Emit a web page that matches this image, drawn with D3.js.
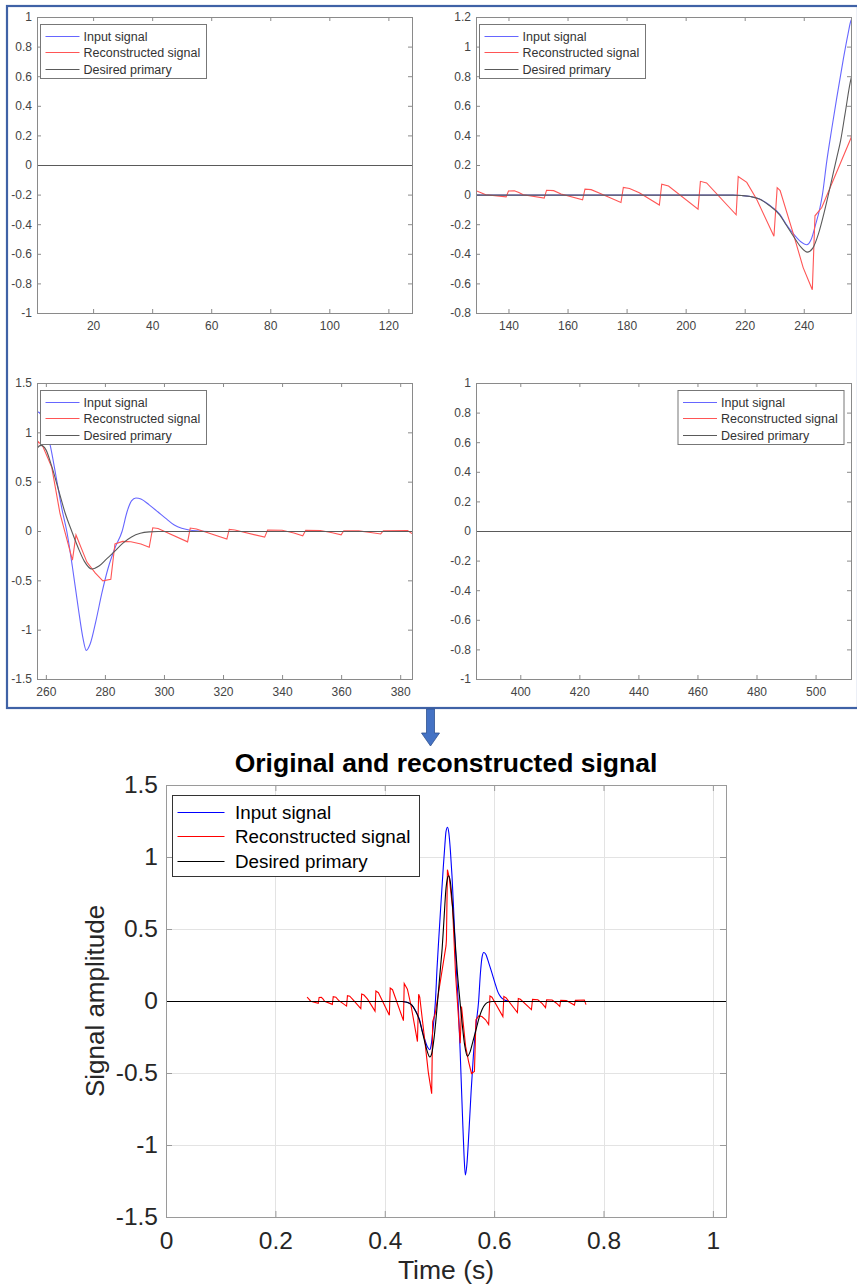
<!DOCTYPE html>
<html>
<head>
<meta charset="utf-8">
<script src="https://cdn.jsdelivr.net/npm/d3@7"></script>
<style>
  body { margin: 0; background: #fff; }
  svg { display: block; }
</style>
</head>
<body>
<svg id="fig" width="857" height="1284"></svg>
<script>
// ---- data: [sample index, amplitude] ----
const sampleRate = 500; // samples per second

const inputSignal = [
  [0,0],[216,0],[219,-0.003],[222,-0.01],[225,-0.027],[228,-0.062],[231.9,-0.13],[234,-0.195],
  [236.5,-0.262],[239,-0.315],[241,-0.335],[242.5,-0.3],[244,-0.2],[245.5,-0.084],[246.3,0],
  [247.8,0.23],[249.5,0.45],[251.2,0.66],[253.5,0.93],[255,1.09],[256,1.18],[257.4,1.21],
  [258.6,1.17],[260,1.05],[261.5,0.87],[263.5,0.55],[265.5,0.22],[267.1,0],[269,-0.36],
  [271,-0.78],[272.5,-1.07],[273.7,-1.205],[275,-1.14],[277,-0.9],[279,-0.62],[281,-0.38],
  [283.5,-0.16],[285.8,0],[287.5,0.2],[289,0.31],[290.5,0.34],[292.2,0.33],[295,0.27],
  [297.9,0.2],[300.5,0.135],[303.5,0.065],[306,0.032],[308.5,0.015],[311,0.006],[315,0],[512,0]
];

const reconstructedSignal = [
  [129,0.03],[130.5,0.018],[132.3,0.002],[139.2,-0.012],
  [140,0.028],[142,0.029],[143.5,0.018],[145,0.002],[152.1,-0.02],
  [152.9,0.033],[155.3,0.03],[157.8,0.008],[165.1,-0.032],
  [165.9,0.04],[168,0.037],[170.7,0.014],[178.1,-0.05],
  [178.9,0.052],[181,0.045],[184.3,0.016],[191.1,-0.067],
  [191.9,0.073],[194.2,0.061],[204.2,-0.095],
  [205,0.093],[207.1,0.082],[217.1,-0.133],
  [217.8,0.125],[220.7,0.086],[224,-0.027],[229.9,-0.278],
  [231,0.05],[232,0.03],[236.5,-0.264],[239.8,-0.49],[242.9,-0.64],
  [243.8,-0.14],[246.1,-0.084],[256,0.386],[256.4,0.43],
  [257.3,0.915],[259,0.86],[262,0.65],[264.8,0.18],[269,-0.29],
  [270.2,-0.035],[273.9,-0.31],[276.7,-0.42],[279.3,-0.5],[282,-0.485],
  [283.4,-0.127],[286,-0.1],[288.8,-0.104],[292.2,-0.127],[295,-0.16],
  [296.2,0.038],[298,0.03],[308,-0.105],
  [308.9,0.035],[311,0.025],[321.3,-0.077],
  [322.1,0.021],[324,0.015],[334.1,-0.057],
  [335.1,0.015],[340,0.012],[344,-0.015],[347,-0.043],
  [348,0.012],[353,0.01],[357,-0.012],[360,-0.034],
  [360.9,0.008],[366,0.006],[370,-0.01],[373.4,-0.025],
  [374.3,0.008],[382.5,0.01],[384,-0.022]
];

const desiredPrimary = [
  [0,0],[216,0],[219,-0.003],[222,-0.01],[225,-0.027],[228,-0.065],[231.9,-0.135],[234,-0.2],
  [236.5,-0.278],[239,-0.35],[241.2,-0.385],[243,-0.36],[245,-0.26],[247,-0.11],[248.3,0],
  [250,0.15],[251.2,0.255],[252.5,0.37],[254,0.55],[256,0.786],[257.2,0.85],[258.4,0.873],
  [260,0.83],[262,0.66],[264.5,0.4],[266.5,0.19],[268.8,0],[271,-0.17],[273,-0.3],
  [275.6,-0.38],[278,-0.35],[280.5,-0.28],[283,-0.21],[286,-0.12],[289,-0.055],
  [292,-0.018],[295,-0.004],[298,0],[512,0]
];

const seriesNames = ["Input signal", "Reconstructed signal", "Desired primary"];

// sample windows shown in the four panels
const panelRanges = [[1, 128], [129, 256], [257, 384], [385, 512]];
const panelYDomains = [[-1, 1], [-0.8, 1.2], [-1.5, 1.5], [-1, 1]];
const panelXTicks = [
  [20, 40, 60, 80, 100, 120],
  [140, 160, 180, 200, 220, 240],
  [260, 280, 300, 320, 340, 360, 380],
  [400, 420, 440, 460, 480, 500]
];
const panelYTicks = [
  [-1, -0.8, -0.6, -0.4, -0.2, 0, 0.2, 0.4, 0.6, 0.8, 1],
  [-0.8, -0.6, -0.4, -0.2, 0, 0.2, 0.4, 0.6, 0.8, 1, 1.2],
  [-1.5, -1, -0.5, 0, 0.5, 1, 1.5],
  [-1, -0.8, -0.6, -0.4, -0.2, 0, 0.2, 0.4, 0.6, 0.8, 1]
];
const mainXDomain = [0, 1.024];
const mainYDomain = [-1.5, 1.5];
const mainXTicks = [0, 0.2, 0.4, 0.6, 0.8, 1];
const mainYTicks = [-1.5, -1, -0.5, 0, 0.5, 1, 1.5];
const mainTitle = "Original and reconstructed signal";
const mainXLabel = "Time (s)";
const mainYLabel = "Signal amplitude";

// ---- drawing ----
const svg = d3.select("#fig");
const FONT = "'Liberation Sans', Arial, Helvetica, sans-serif";
const fmt = d => String(d);
const seriesData = [inputSignal, reconstructedSignal, desiredPrimary];

const panelColors = ["#6666ff", "#ff5555", "#5a5a5a"];
const mainColors = ["#0000ff", "#ff0000", "#000000"];
const seriesCurves = [d3.curveMonotoneX, d3.curveLinear, d3.curveMonotoneX];

// blue frame around the four panels
svg.append("rect")
  .attr("x", 7).attr("y", 6).attr("width", 851).attr("height", 702)
  .attr("fill", "none").attr("stroke", "#3f62a6").attr("stroke-width", 2.2);

// arrow pointing down to the combined plot
svg.append("path")
  .attr("d", "M426.5,709 L434.5,709 L434.5,733 L439.5,733 L430.5,746 L421.5,733 L426.5,733 Z")
  .attr("fill", "#4472c4").attr("stroke", "#2f528f").attr("stroke-width", 0.8);

const panelBoxes = [
  { left: 37, top: 17 }, { left: 476, top: 17 },
  { left: 37, top: 383 }, { left: 476, top: 383 }
];
const PW = 375, PH = 296;

function styleAxis(g, color, size) {
  g.select(".domain").remove();
  g.selectAll(".tick line").attr("stroke", color);
  g.selectAll(".tick text").attr("fill", "#444").attr("font-family", FONT).attr("font-size", size);
}

panelBoxes.forEach((box, i) => {
  const x = d3.scaleLinear().domain(panelRanges[i]).range([box.left, box.left + PW]);
  const y = d3.scaleLinear().domain(panelYDomains[i]).range([box.top + PH, box.top]);
  const g = svg.append("g");

  const clipId = "clip" + i;
  svg.append("clipPath").attr("id", clipId).append("rect")
    .attr("x", box.left).attr("y", box.top).attr("width", PW).attr("height", PH);

  const axisColor = "#8a8a8a";
  g.append("g").attr("transform", `translate(0,${box.top + PH})`)
    .call(d3.axisBottom(x).tickValues(panelXTicks[i]).tickSize(-4).tickPadding(8).tickFormat(fmt))
    .call(a => styleAxis(a, axisColor, 12));
  g.append("g").attr("transform", `translate(0,${box.top})`)
    .call(d3.axisTop(x).tickValues(panelXTicks[i]).tickSize(-4).tickFormat(""))
    .call(a => styleAxis(a, axisColor, 12));
  g.append("g").attr("transform", `translate(${box.left},0)`)
    .call(d3.axisLeft(y).tickValues(panelYTicks[i]).tickSize(-4).tickPadding(5).tickFormat(fmt))
    .call(a => styleAxis(a, axisColor, 12));
  g.append("g").attr("transform", `translate(${box.left + PW},0)`)
    .call(d3.axisRight(y).tickValues(panelYTicks[i]).tickSize(-4).tickFormat(""))
    .call(a => styleAxis(a, axisColor, 12));

  // half-pixel shift keeps the flat zero segments on one pixel row
  const lines = g.append("g").attr("clip-path", `url(#${clipId})`)
    .append("g").attr("transform", "translate(0,0.5)");
  seriesData.forEach((data, k) => {
    const line = d3.line().x(d => x(d[0])).y(d => y(d[1])).curve(seriesCurves[k]);
    lines.append("path").datum(data).attr("d", line)
      .attr("fill", "none").attr("stroke", panelColors[k]).attr("stroke-width", 1.1);
  });

  g.append("rect").attr("x", box.left + 0.5).attr("y", box.top + 0.5).attr("width", PW).attr("height", PH)
    .attr("fill", "none").attr("stroke", axisColor).attr("stroke-width", 1);

  // legend
  const lw = 166, lh = 54;
  const lx = i === 3 ? box.left + PW - 7 - lw : box.left + 3.5;
  const ly = box.top + 7.5;
  const lg = g.append("g");
  lg.append("rect").attr("x", lx).attr("y", ly).attr("width", lw).attr("height", lh)
    .attr("fill", "#fff").attr("stroke", "#777").attr("stroke-width", 1);
  seriesNames.forEach((name, k) => {
    const cy = Math.round(ly + 11 + k * 16.8) + 0.5;
    lg.append("line").attr("x1", lx + 5).attr("x2", lx + 39).attr("y1", cy).attr("y2", cy)
      .attr("stroke", panelColors[k]).attr("stroke-width", 1);
    lg.append("text").attr("x", lx + 43).attr("y", cy).attr("dy", "0.35em")
      .attr("font-family", FONT).attr("font-size", 12.5).attr("fill", "#333").text(name);
  });
});

// ---- combined plot ----
const M = { left: 166, right: 726, top: 785, bottom: 1217 };
const mx = d3.scaleLinear().domain(mainXDomain).range([M.left, M.right]);
const my = d3.scaleLinear().domain(mainYDomain).range([M.bottom, M.top]);
const mg = svg.append("g");

// grid
mg.append("g").selectAll("line").data(mainXTicks.filter(t => t > 0)).join("line")
  .attr("x1", d => Math.round(mx(d)) + 0.5).attr("x2", d => Math.round(mx(d)) + 0.5)
  .attr("y1", M.top).attr("y2", M.bottom)
  .attr("stroke", "#e3e3e3").attr("stroke-width", 1);
mg.append("g").selectAll("line").data(mainYTicks.filter(t => t > mainYDomain[0] && t < mainYDomain[1])).join("line")
  .attr("x1", M.left).attr("x2", M.right)
  .attr("y1", d => Math.round(my(d)) + 0.5).attr("y2", d => Math.round(my(d)) + 0.5)
  .attr("stroke", "#e3e3e3").attr("stroke-width", 1);

const mainAxisColor = "#9a9a9a";
function styleMain(a) {
  a.select(".domain").remove();
  a.selectAll(".tick line").attr("stroke", mainAxisColor);
  a.selectAll(".tick text").attr("fill", "#262626").attr("font-family", FONT).attr("font-size", 24.5);
}
mg.append("g").attr("transform", `translate(0,${M.bottom})`)
  .call(d3.axisBottom(mx).tickValues(mainXTicks).tickSize(-6).tickPadding(15).tickFormat(fmt))
  .call(styleMain);
mg.append("g").attr("transform", `translate(0,${M.top})`)
  .call(d3.axisTop(mx).tickValues(mainXTicks).tickSize(-6).tickFormat(""))
  .call(styleMain);
mg.append("g").attr("transform", `translate(${M.left},0)`)
  .call(d3.axisLeft(my).tickValues(mainYTicks).tickSize(-6).tickPadding(8).tickFormat(fmt))
  .call(styleMain);
mg.append("g").attr("transform", `translate(${M.right},0)`)
  .call(d3.axisRight(my).tickValues(mainYTicks).tickSize(-6).tickFormat(""))
  .call(styleMain);

svg.append("clipPath").attr("id", "clipMain").append("rect")
  .attr("x", M.left).attr("y", M.top).attr("width", M.right - M.left).attr("height", M.bottom - M.top);
const mlines = mg.append("g").attr("clip-path", "url(#clipMain)")
  .append("g").attr("transform", "translate(0,0.5)");
seriesData.forEach((data, k) => {
  const line = d3.line().x(d => mx(d[0] / sampleRate)).y(d => my(d[1])).curve(seriesCurves[k]);
  mlines.append("path").datum(data).attr("d", line)
    .attr("fill", "none").attr("stroke", mainColors[k]).attr("stroke-width", 1.1);
});

mg.append("rect").attr("x", M.left + 0.5).attr("y", M.top + 0.5)
  .attr("width", M.right - M.left).attr("height", M.bottom - M.top)
  .attr("fill", "none").attr("stroke", mainAxisColor).attr("stroke-width", 1);

// legend
const LX = 172.5, LY = 795.5, LW = 247, LH = 81;
mg.append("rect").attr("x", LX).attr("y", LY).attr("width", LW).attr("height", LH)
  .attr("fill", "#fff").attr("stroke", "#333").attr("stroke-width", 1);
seriesNames.forEach((name, k) => {
  const cy = Math.round(LY + 16 + k * 24.5) + 0.5;
  mg.append("line").attr("x1", LX + 5).attr("x2", LX + 52).attr("y1", cy).attr("y2", cy)
    .attr("stroke", mainColors[k]).attr("stroke-width", 1.2);
  mg.append("text").attr("x", LX + 62.5).attr("y", cy).attr("dy", "0.35em")
    .attr("font-family", FONT).attr("font-size", 18.8).attr("fill", "#000").text(name);
});

// title and axis labels
svg.append("text").attr("x", 446).attr("y", 772).attr("text-anchor", "middle")
  .attr("font-family", FONT).attr("font-weight", "bold").attr("font-size", 26.5)
  .attr("fill", "#000").text(mainTitle);
svg.append("text").attr("x", 446).attr("y", 1279).attr("text-anchor", "middle")
  .attr("font-family", FONT).attr("font-size", 26.5).attr("fill", "#262626").text(mainXLabel);
svg.append("text").attr("transform", `translate(104,${(M.top + M.bottom) / 2}) rotate(-90)`)
  .attr("text-anchor", "middle")
  .attr("font-family", FONT).attr("font-size", 26).attr("fill", "#262626").text(mainYLabel);
</script>
</body>
</html>
